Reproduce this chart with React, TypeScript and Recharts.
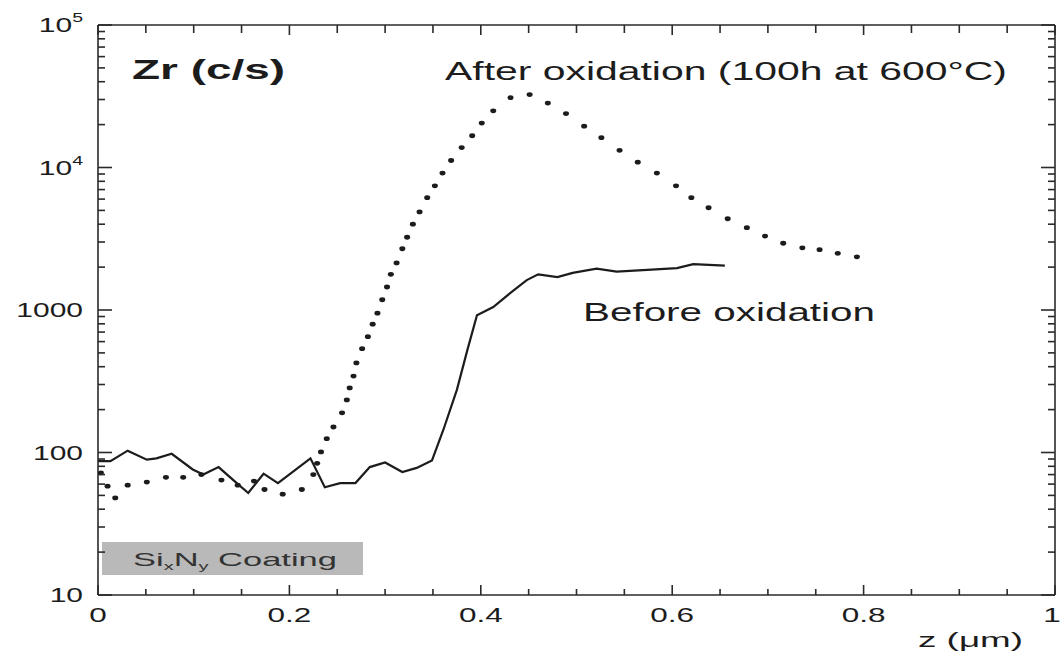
import { LineChart, Line, XAxis, YAxis, Customized } from "recharts";

// Zr counts before oxidation (solid line)
const beforeZ = [
  0.0, 0.013, 0.031, 0.051, 0.061, 0.077, 0.099, 0.11, 0.126, 0.145, 0.157, 0.173, 0.188, 0.222,
  0.237, 0.253, 0.269, 0.284, 0.3, 0.318, 0.333, 0.349, 0.361, 0.375, 0.386, 0.396, 0.413, 0.431,
  0.448, 0.46, 0.48, 0.496, 0.521, 0.542, 0.574, 0.605, 0.622, 0.655,
];
const beforeCounts = [
  87, 87, 103, 89, 91, 98, 76, 70, 79, 61, 52, 71, 61, 91,
  57, 61, 61, 79, 85, 73, 78, 88, 145, 275, 525, 920, 1050, 1320,
  1620, 1780, 1700, 1820, 1950, 1860, 1910, 1970, 2100, 2050,
];

// Zr counts after 100h at 600°C (dotted markers)
const afterZ = [
  0.003, 0.01, 0.018, 0.031, 0.051, 0.071, 0.089, 0.108, 0.129, 0.146, 0.163, 0.174, 0.193, 0.213,
  0.225, 0.229, 0.233, 0.239, 0.246, 0.255, 0.26, 0.263, 0.267, 0.27, 0.276, 0.282, 0.287, 0.292,
  0.297, 0.302, 0.306, 0.312, 0.318, 0.323, 0.329, 0.336, 0.344, 0.352, 0.36, 0.369, 0.38, 0.391,
  0.401, 0.413, 0.431, 0.451, 0.47, 0.489, 0.508, 0.526, 0.545, 0.564, 0.584, 0.604, 0.62, 0.638,
  0.658, 0.678, 0.697, 0.716, 0.736, 0.754, 0.773, 0.793,
];
const afterCounts = [
  72, 58, 48, 59, 62, 67, 67, 70, 64, 59, 63, 55, 51, 55,
  70, 84, 101, 125, 151, 190, 234, 284, 344, 425, 535, 650, 795, 950,
  1180, 1450, 1780, 2140, 2690, 3240, 4000, 4880, 6140, 7440, 9140, 11200, 13800, 16700,
  20500, 25000, 30900, 32500, 28300, 23900, 19500, 16200, 13200, 10900, 9140, 7440, 6140, 5220,
  4370, 3780, 3300, 2940, 2730, 2650, 2500, 2360,
];

const xTicks = [
  0, 0.05, 0.1, 0.15, 0.2, 0.25, 0.3, 0.35, 0.4, 0.45, 0.5, 0.55, 0.6, 0.65, 0.7, 0.75, 0.8, 0.85,
  0.9, 0.95, 1,
];
const xMajor = [0, 0.2, 0.4, 0.6, 0.8, 1];
const xLabels = ["0", "0.2", "0.4", "0.6", "0.8", "1"];

const yMajor = [10, 100, 1000, 10000, 100000];
const yLabelBase = ["10", "100", "1000", "10", "10"];
const yLabelSup = ["", "", "", "4", "5"];
const yMinorSteps = [2, 3, 4, 5, 6, 7, 8, 9];
const yTicks = [
  ...yMajor,
  ...yMajor.slice(0, 4).flatMap((d) => yMinorSteps.map((m) => d * m)),
].sort((a, b) => a - b);

const beforeData = beforeZ.map((z, i) => ({ z, counts: beforeCounts[i] }));
const afterData = afterZ.map((z, i) => ({ z, counts: afterCounts[i] }));

const INK = "#1c1c1c";
const AXIS = "#2a2a2a";
const TICK_W = 1.6;
const SX = 1.5;
const FONT = "'Liberation Sans', Arial, Helvetica, sans-serif";

const near = (a: number, b: number) => Math.abs(a - b) < 1e-6;

function BottomTick(props: any) {
  const { x, y, payload } = props;
  const i = xMajor.findIndex((m) => near(m, payload.value));
  const lx = i === xMajor.length - 1 ? x - 3 : x;
  return (
    <g>
      <path d={`M${x},${y}V${y - (i >= 0 ? 10 : 6)}`} stroke={AXIS} strokeWidth={TICK_W} fill="none" />
      {i >= 0 && (
        <g transform={`translate(${lx},${y + 27}) scale(${SX},1)`}>
          <text textAnchor="middle" fontSize={21} fill={INK} fontFamily={FONT}>
            {xLabels[i]}
          </text>
        </g>
      )}
    </g>
  );
}

function TopTick(props: any) {
  const { x, y, payload } = props;
  const major = xMajor.some((m) => near(m, payload.value));
  return (
    <g>
      <path d={`M${x},${y}V${y + (major ? 10 : 8)}`} stroke={AXIS} strokeWidth={TICK_W} fill="none" />
    </g>
  );
}

function LeftTick(props: any) {
  const { x, y, payload } = props;
  const i = yMajor.indexOf(payload.value);
  return (
    <g>
      <path d={`M${x},${y}H${x + (i >= 0 ? 14 : 7)}`} stroke={AXIS} strokeWidth={TICK_W} fill="none" />
      {i >= 0 && (
        <g transform={`translate(${x - 15},${y + 7}) scale(${SX},1)`}>
          <text textAnchor="end" fontSize={20} fill={INK} fontFamily={FONT}>
            <tspan>{yLabelBase[i]}</tspan>
            {yLabelSup[i] && (
              <tspan dy={-10} fontSize={13}>
                {yLabelSup[i]}
              </tspan>
            )}
          </text>
        </g>
      )}
    </g>
  );
}

function RightTick(props: any) {
  const { x, y, payload } = props;
  const major = yMajor.includes(payload.value);
  return (
    <g>
      <path d={`M${x},${y}H${x - (major ? 14 : 7)}`} stroke={AXIS} strokeWidth={TICK_W} fill="none" />
    </g>
  );
}

function AfterDot(props: any) {
  const { cx, cy } = props;
  if (cx == null || cy == null) return null;
  return <ellipse cx={cx} cy={cy} rx={3} ry={2.4} fill={INK} />;
}

function Annotations() {
  return (
    <g fontFamily={FONT} fill={INK}>
      <text x={132} y={79} fontSize={27} fontWeight="bold" textLength={153} lengthAdjust="spacingAndGlyphs">
        Zr (c/s)
      </text>
      <text x={445} y={80} fontSize={26} textLength={562} lengthAdjust="spacingAndGlyphs">
        After oxidation (100h at 600°C)
      </text>
      <text x={583} y={321} fontSize={26} textLength={292} lengthAdjust="spacingAndGlyphs">
        Before oxidation
      </text>
      <text x={918} y={647} fontSize={21} textLength={105} lengthAdjust="spacingAndGlyphs">
        z (μm)
      </text>
      <rect x={102} y={542} width={261} height={33} fill="#b9b9b9" />
      <text x={133} y={566} fontSize={19} fill="#333" textLength={204} lengthAdjust="spacingAndGlyphs">
        Si
        <tspan dy={4} fontSize={11}>x</tspan>
        <tspan dy={-4}>N</tspan>
        <tspan dy={4} fontSize={11}>y</tspan>
        <tspan dy={-4}> Coating</tspan>
      </text>
    </g>
  );
}

export default function App() {
  return (
    <div style={{ position: "absolute", left: 0, top: 0, background: "#fff" }}>
      <LineChart width={1062} height={658} margin={{ top: 0, right: 0, bottom: 0, left: 0 }}>
        <XAxis
          xAxisId="b"
          type="number"
          dataKey="z"
          domain={[0, 1]}
          ticks={xTicks}
          interval={0}
          allowDataOverflow
          height={63}
          tickSize={0}
          tickMargin={0}
          tickLine={false}
          axisLine={{ stroke: AXIS, strokeWidth: 1.6 }}
          tick={<BottomTick />}
        />
        <XAxis
          xAxisId="t"
          orientation="top"
          type="number"
          dataKey="z"
          domain={[0, 1]}
          ticks={xTicks}
          interval={0}
          allowDataOverflow
          height={25}
          tickSize={0}
          tickMargin={0}
          tickLine={false}
          axisLine={{ stroke: AXIS, strokeWidth: 1.6 }}
          tick={<TopTick />}
        />
        <YAxis
          yAxisId="l"
          scale="log"
          type="number"
          domain={[10, 100000]}
          ticks={yTicks}
          interval={0}
          allowDataOverflow
          width={98}
          tickSize={0}
          tickMargin={0}
          tickLine={false}
          axisLine={{ stroke: AXIS, strokeWidth: 1.6 }}
          tick={<LeftTick />}
        />
        <YAxis
          yAxisId="r"
          orientation="right"
          scale="log"
          type="number"
          domain={[10, 100000]}
          ticks={yTicks}
          interval={0}
          allowDataOverflow
          width={7}
          tickSize={0}
          tickMargin={0}
          tickLine={false}
          axisLine={{ stroke: AXIS, strokeWidth: 1.6 }}
          tick={<RightTick />}
        />
        <Line
          xAxisId="b"
          yAxisId="l"
          data={beforeData}
          dataKey="counts"
          type="linear"
          stroke={INK}
          strokeWidth={2.2}
          dot={false}
          isAnimationActive={false}
        />
        <Line
          xAxisId="b"
          yAxisId="l"
          data={afterData}
          dataKey="counts"
          type="linear"
          stroke="none"
          strokeWidth={0}
          dot={<AfterDot />}
          isAnimationActive={false}
        />
        <Customized component={<Annotations />} />
      </LineChart>
    </div>
  );
}
